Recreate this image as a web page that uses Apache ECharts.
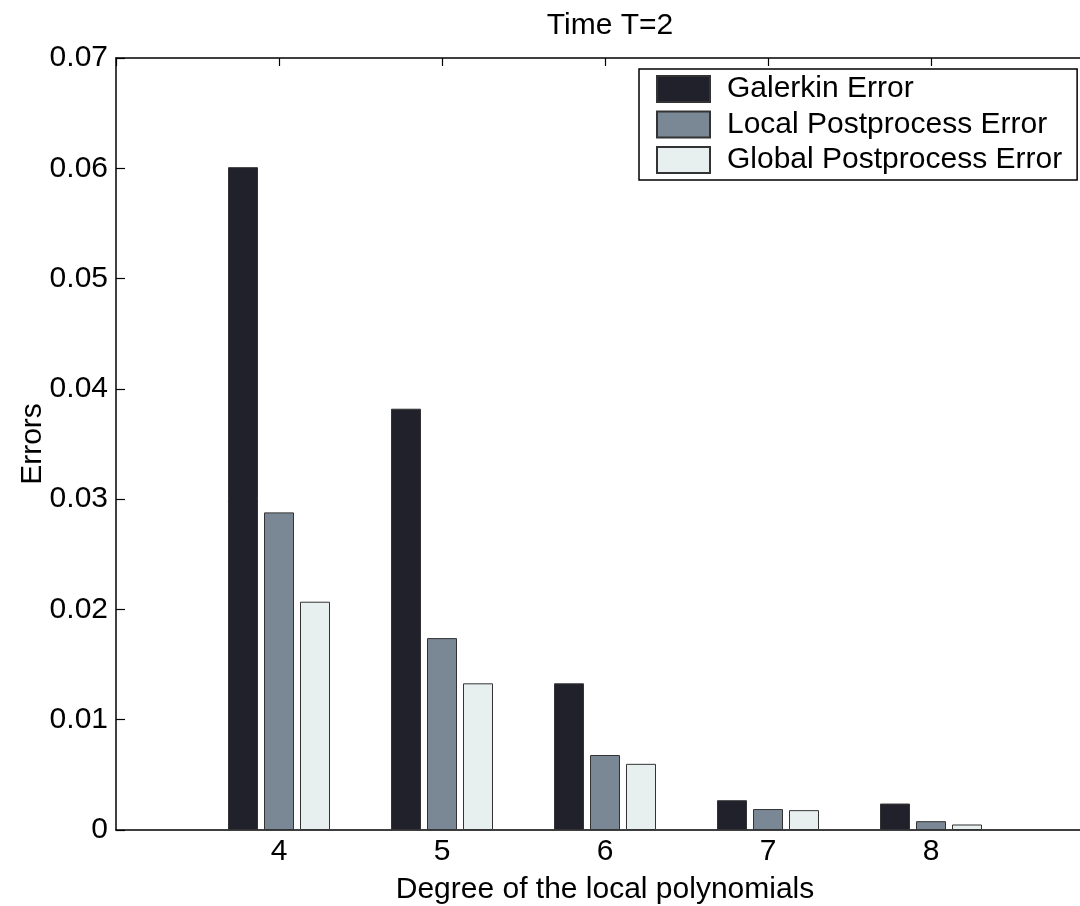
<!DOCTYPE html>
<html>
<head>
<meta charset="utf-8">
<script src="https://cdn.jsdelivr.net/npm/echarts@6/dist/echarts.min.js"></script>
<style>
  html, body { margin: 0; padding: 0; background: #fff; }
  #chart { width: 1080px; height: 906px; }
</style>
</head>
<body>
<div id="chart"></div>
<script>
// degree of the local polynomials
const degrees = [4, 5, 6, 7, 8];
const seriesNames = ["Galerkin Error", "Local Postprocess Error", "Global Postprocess Error"];
const galerkinError = [0.0601, 0.0382, 0.0133, 0.0027, 0.0024];
const localError = [0.0288, 0.0174, 0.0068, 0.0019, 0.0008];
const globalError = [0.0207, 0.0133, 0.0060, 0.0018, 0.0005];
const yTicks = [0, 0.01, 0.02, 0.03, 0.04, 0.05, 0.06, 0.07];

const font = "Liberation Sans, Arial, sans-serif";
const colors = ["#21212c", "#7a8795", "#e8f0ef"];

const chart = echarts.init(document.getElementById("chart"));

const makeBar = (name, values, idx) => ({
  name: name,
  type: "bar",
  barWidth: 30,
  barGap: "20%",
  itemStyle: {
    color: colors[idx],
    borderColor: "#333",
    borderWidth: 1,
  },
  data: degrees.map((d, i) => [d, values[i]]),
});

chart.setOption({
  animation: false,
  title: {
    text: "Time T=2",
    left: 605,
    textAlign: "center",
    top: 6,
    textStyle: { fontFamily: font, fontSize: 30, fontWeight: "normal", color: "#000" },
  },
  legend: {
    orient: "vertical",
    left: 639,
    top: 69,
    padding: [5, 15, 5, 17],
    itemWidth: 53,
    itemHeight: 26,
    itemGap: 5.5,
    icon: "rect",
    borderColor: "#000",
    borderWidth: 1.5,
    backgroundColor: "#fff",
    data: seriesNames,
    textStyle: {
      fontFamily: font,
      fontSize: 30,
      lineHeight: 30,
      color: "#000",
      padding: [0, 0, 0, 12],
    },
  },
  grid: {
    left: 116,
    top: 58,
    width: 978,
    height: 772,
    outerBoundsMode: "none",
    containLabel: false,
  },
  xAxis: [
    {
      type: "value",
      min: 3,
      max: 9,
      interval: 1,
      name: "Degree of the local polynomials",
      nameLocation: "middle",
      nameGap: 45,
      nameMoveOverlap: false,
      nameTextStyle: { fontFamily: font, fontSize: 30, color: "#000" },
      axisLine: { lineStyle: { color: "#000", width: 1.5 } },
      axisTick: { inside: true, length: 8, lineStyle: { color: "#000", width: 1.2 } },
      axisLabel: {
        fontFamily: font,
        fontSize: 30,
        color: "#000",
        margin: 7,
        showMinLabel: false,
        showMaxLabel: false,
      },
      splitLine: { show: false },
    },
    {
      type: "value",
      position: "top",
      min: 3,
      max: 9,
      interval: 1,
      axisLine: { lineStyle: { color: "#000", width: 1.5 } },
      axisTick: { inside: true, length: 8, lineStyle: { color: "#000", width: 1.2 } },
      axisLabel: { show: false },
      splitLine: { show: false },
    },
  ],
  yAxis: {
    type: "value",
    min: yTicks[0],
    max: yTicks[yTicks.length - 1],
    interval: 0.01,
    name: "Errors",
    nameLocation: "middle",
    nameGap: 68,
    nameRotate: 90,
    nameMoveOverlap: false,
    nameTextStyle: { fontFamily: font, fontSize: 30, color: "#000" },
    axisLine: { show: true, lineStyle: { color: "#000", width: 1.5 } },
    axisTick: { show: true, inside: true, length: 9, lineStyle: { color: "#000", width: 1.2 } },
    axisLabel: {
      fontFamily: font,
      fontSize: 30,
      color: "#000",
      margin: 8,
      formatter: (v) => String(+v.toFixed(2)),
    },
    splitLine: { show: false },
  },
  series: [
    makeBar(seriesNames[0], galerkinError, 0),
    makeBar(seriesNames[1], localError, 1),
    makeBar(seriesNames[2], globalError, 2),
  ],
});
</script>
</body>
</html>
